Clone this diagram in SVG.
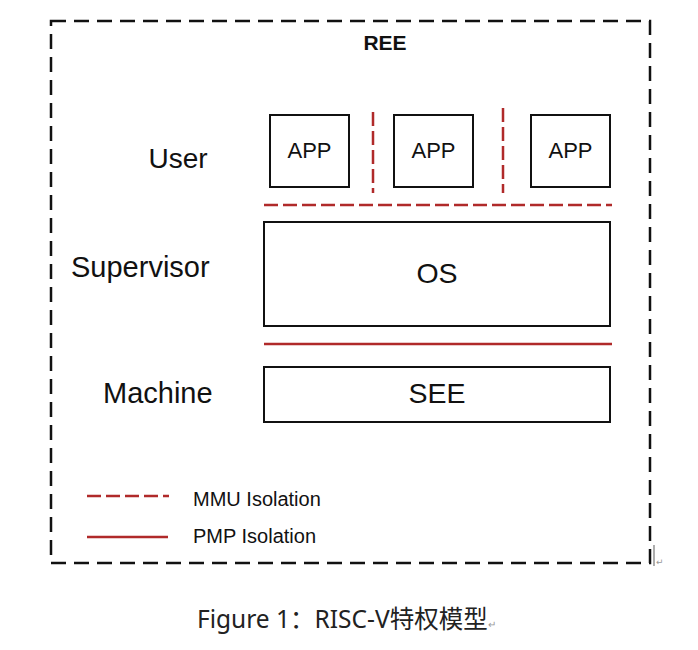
<svg xmlns="http://www.w3.org/2000/svg" width="698" height="650" viewBox="0 0 698 650">
<style>
.box{fill:#fff;stroke:#111;stroke-width:2}
.t{font-family:"Liberation Sans",Arial,sans-serif;fill:#111}
.mmu{stroke:#b02a2a;stroke-width:2.5;stroke-dasharray:14 5;fill:none}
.pmp{stroke:#b02a2a;stroke-width:2.5;fill:none}
</style>
<rect width="698" height="650" fill="#fff"/>
<g id="ree">
<rect x="51" y="21" width="599" height="542" fill="none" stroke="#111" stroke-width="2.5" stroke-dasharray="15 8"/>
<text class="t" x="385" y="50" font-size="21" font-weight="bold" text-anchor="middle">REE</text>
</g>
<g id="labels">
<text class="t" x="178" y="168" font-size="28" text-anchor="middle">User</text>
<text class="t" x="71" y="277" font-size="29">Supervisor</text>
<text class="t" x="103" y="403" font-size="29">Machine</text>
</g>
<g id="app1"><rect class="box" x="270" y="115" width="79" height="72"/><text class="t" x="309.5" y="158" font-size="22" text-anchor="middle">APP</text></g>
<g id="app2"><rect class="box" x="394" y="115" width="79" height="72"/><text class="t" x="433.5" y="158" font-size="22" text-anchor="middle">APP</text></g>
<g id="app3"><rect class="box" x="531" y="115" width="79" height="72"/><text class="t" x="570.5" y="158" font-size="22" text-anchor="middle">APP</text></g>
<g id="os"><rect class="box" x="264" y="222" width="346" height="104"/><text class="t" x="437" y="283" font-size="28.5" text-anchor="middle">OS</text></g>
<g id="see"><rect class="box" x="264" y="367" width="346" height="55"/><text class="t" x="437" y="403" font-size="28.5" text-anchor="middle">SEE</text></g>
<g id="connectors">
<line class="mmu" x1="373" y1="112" x2="373" y2="193" stroke-dasharray="18 6"/>
<line class="mmu" x1="503" y1="108" x2="503" y2="193" stroke-dasharray="18 6"/>
<line class="mmu" x1="264" y1="205" x2="612" y2="205" stroke-dasharray="28 3.6"/>
<line class="pmp" x1="264" y1="344" x2="612" y2="344"/>
</g>
<g id="legend">
<line class="mmu" x1="87" y1="496" x2="169" y2="496" stroke-dasharray="22 8"/>
<text class="t" x="193" y="506" font-size="20" fill="#222">MMU Isolation</text>
<line class="pmp" x1="87" y1="537" x2="168" y2="537"/>
<text class="t" x="193" y="543" font-size="20" fill="#222">PMP Isolation</text>
</g>
<g id="caption">
<line x1="654" y1="545" x2="654" y2="566" stroke="#777" stroke-width="1.2"/>
<text x="656" y="565" font-size="9" fill="#999" font-family="'DejaVu Sans',sans-serif">↵</text>
<text x="197" y="628" font-size="24.5" fill="#222" font-family="'Noto Sans','Noto Sans CJK SC',sans-serif">Figure 1：RISC-V特权模型<tspan font-size="10" fill="#999">↵</tspan></text>
</g>
</svg>
